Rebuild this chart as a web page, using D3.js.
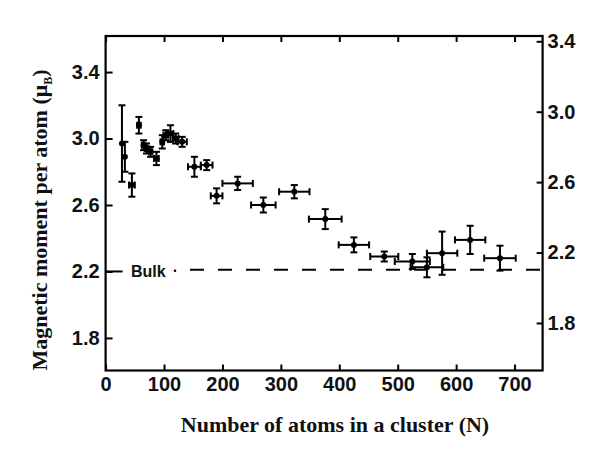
<!DOCTYPE html>
<html><head><meta charset="utf-8">
<script src="https://cdn.jsdelivr.net/npm/d3@7"></script>
<style>body{margin:0;background:#fff} svg{display:block}</style>
</head><body><svg id="c" width="600" height="452"></svg>
<script>
// ---- data ----
const clusterSizes = [28, 33, 45, 57, 65, 70, 77, 87, 97, 103, 111, 120, 131, 152, 173, 190, 226, 270, 323, 376, 425, 477, 525, 550, 576, 624, 675];
const moments      = [2.97, 2.89, 2.72, 3.08, 2.96, 2.94, 2.92, 2.88, 2.98, 3.02, 3.03, 3.00, 2.98, 2.83, 2.84, 2.655, 2.73, 2.60, 2.68, 2.515, 2.36, 2.29, 2.26, 2.225, 2.31, 2.39, 2.28];
const sizeErr      = [0, 0, 5, 3, 3, 3, 3, 4, 3, 4, 5, 5, 8, 11, 10, 10, 26, 21, 26, 28, 26, 24, 30, 28, 26, 26, 27];
const momentErr    = [0.23, 0.09, 0.07, 0.05, 0.03, 0.03, 0.03, 0.04, 0.04, 0.03, 0.05, 0.03, 0.03, 0.06, 0.03, 0.045, 0.04, 0.045, 0.04, 0.06, 0.045, 0.03, 0.045, 0.06, 0.13, 0.085, 0.075];
const xTicks = [0, 100, 200, 300, 400, 500, 600, 700];
const yTicks = [1.8, 2.2, 2.6, 3.0, 3.4];
const bulkValue = 2.21;
const bulkLabel = "Bulk";
const xTitle = "Number of atoms in a cluster (N)";
const yTitleMain = "Magnetic moment per atom (\u03BC";
const yTitleSub = "B";

// ---- layout ----
const L = 105.6, R = 542.6, T = 36, B = 370.5;
const svg = d3.select("#c");
const x = d3.scaleLinear().domain([0, 748]).range([L, R]);
const yL = d3.scaleLinear().domain([1.604, 3.617]).range([B, T]);
const yR = d3.scaleLinear().domain([1.53, 3.43]).range([B, T]);
const tickFont = "'Liberation Sans', Arial, sans-serif";

function styleAxis(g) {
  g.select(".domain").remove();
  g.selectAll(".tick line").attr("stroke", "#000").attr("stroke-width", 2);
  g.selectAll(".tick text").attr("fill", "#111").attr("font-family", tickFont)
    .attr("font-size", 20).attr("font-weight", "bold");
}

// axes
svg.append("g").attr("transform", `translate(0,${B})`)
  .call(d3.axisBottom(x).tickValues(xTicks).tickSize(-6).tickPadding(6).tickFormat(d3.format("d")))
  .call(styleAxis);
svg.append("g").attr("transform", `translate(0,${T})`)
  .call(d3.axisTop(x).tickValues(xTicks).tickSize(-6).tickFormat(""))
  .call(styleAxis);
svg.append("g").attr("transform", `translate(${L},0)`)
  .call(d3.axisLeft(yL).tickValues(yTicks).tickSize(-7).tickPadding(6).tickFormat(d3.format(".1f")))
  .call(styleAxis);
svg.append("g").attr("transform", `translate(${R},0)`)
  .call(d3.axisRight(yR).tickValues(yTicks).tickSize(-6).tickPadding(5).tickFormat(d3.format(".1f")))
  .call(styleAxis);

// frame
svg.append("rect").attr("x", L).attr("y", T).attr("width", R - L).attr("height", B - T)
  .attr("fill", "none").attr("stroke", "#000").attr("stroke-width", 2.2);

// bulk line
const yb = yL(bulkValue);
svg.append("line").attr("x1", L).attr("x2", L + 17).attr("y1", yL(2.2)).attr("y2", yL(2.2))
  .attr("stroke", "#000").attr("stroke-width", 2);
svg.append("text").attr("x", 131).attr("y", yb + 7).text(bulkLabel)
  .attr("font-family", tickFont).attr("font-size", 16).attr("font-weight", "bold").attr("fill", "#111");
svg.append("circle").attr("cx", 175).attr("cy", yb + 1).attr("r", 1.3).attr("fill", "#000");
svg.append("line").attr("x1", 190).attr("x2", R).attr("y1", yb).attr("y2", yb)
  .attr("stroke", "#000").attr("stroke-width", 2).attr("stroke-dasharray", "14,14");

// error bars + points
const pts = clusterSizes.map((n, i) => ({n, v: moments[i], dn: sizeErr[i], dv: momentErr[i]}));
const g = svg.append("g").attr("stroke", "#000").attr("stroke-width", 2).attr("fill", "none");
const cap = 3.5;
pts.forEach(p => {
  const cx = x(p.n), cy = yL(p.v);
  if (p.dv > 0) {
    const y1 = yL(p.v + p.dv), y2 = yL(p.v - p.dv);
    g.append("line").attr("x1", cx).attr("x2", cx).attr("y1", y1).attr("y2", y2);
    g.append("line").attr("x1", cx - cap).attr("x2", cx + cap).attr("y1", y1).attr("y2", y1);
    g.append("line").attr("x1", cx - cap).attr("x2", cx + cap).attr("y1", y2).attr("y2", y2);
  }
  if (p.dn > 0) {
    const x1 = x(p.n - p.dn), x2 = x(p.n + p.dn);
    g.append("line").attr("x1", x1).attr("x2", x2).attr("y1", cy).attr("y2", cy);
    g.append("line").attr("x1", x1).attr("x2", x1).attr("y1", cy - cap).attr("y2", cy + cap);
    g.append("line").attr("x1", x2).attr("x2", x2).attr("y1", cy - cap).attr("y2", cy + cap);
  }
});
svg.append("g").selectAll("circle").data(pts).join("circle")
  .attr("cx", d => x(d.n)).attr("cy", d => yL(d.v)).attr("r", 3).attr("fill", "#000");

// titles
const serif = "'Liberation Serif', 'Times New Roman', serif";
svg.append("text").attr("x", 335).attr("y", 432).attr("text-anchor", "middle")
  .attr("font-family", serif).attr("font-size", 22).attr("font-weight", "bold").attr("fill", "#111")
  .text(xTitle);
const yt = svg.append("text").attr("transform", "translate(47,220) rotate(-90)").attr("text-anchor", "middle")
  .attr("font-family", serif).attr("font-size", 22).attr("font-weight", "bold").attr("fill", "#111");
yt.append("tspan").text(yTitleMain);
yt.append("tspan").attr("font-size", 12).attr("dy", 5).text(yTitleSub);
yt.append("tspan").attr("dy", -5).text(")");
</script></body></html>
